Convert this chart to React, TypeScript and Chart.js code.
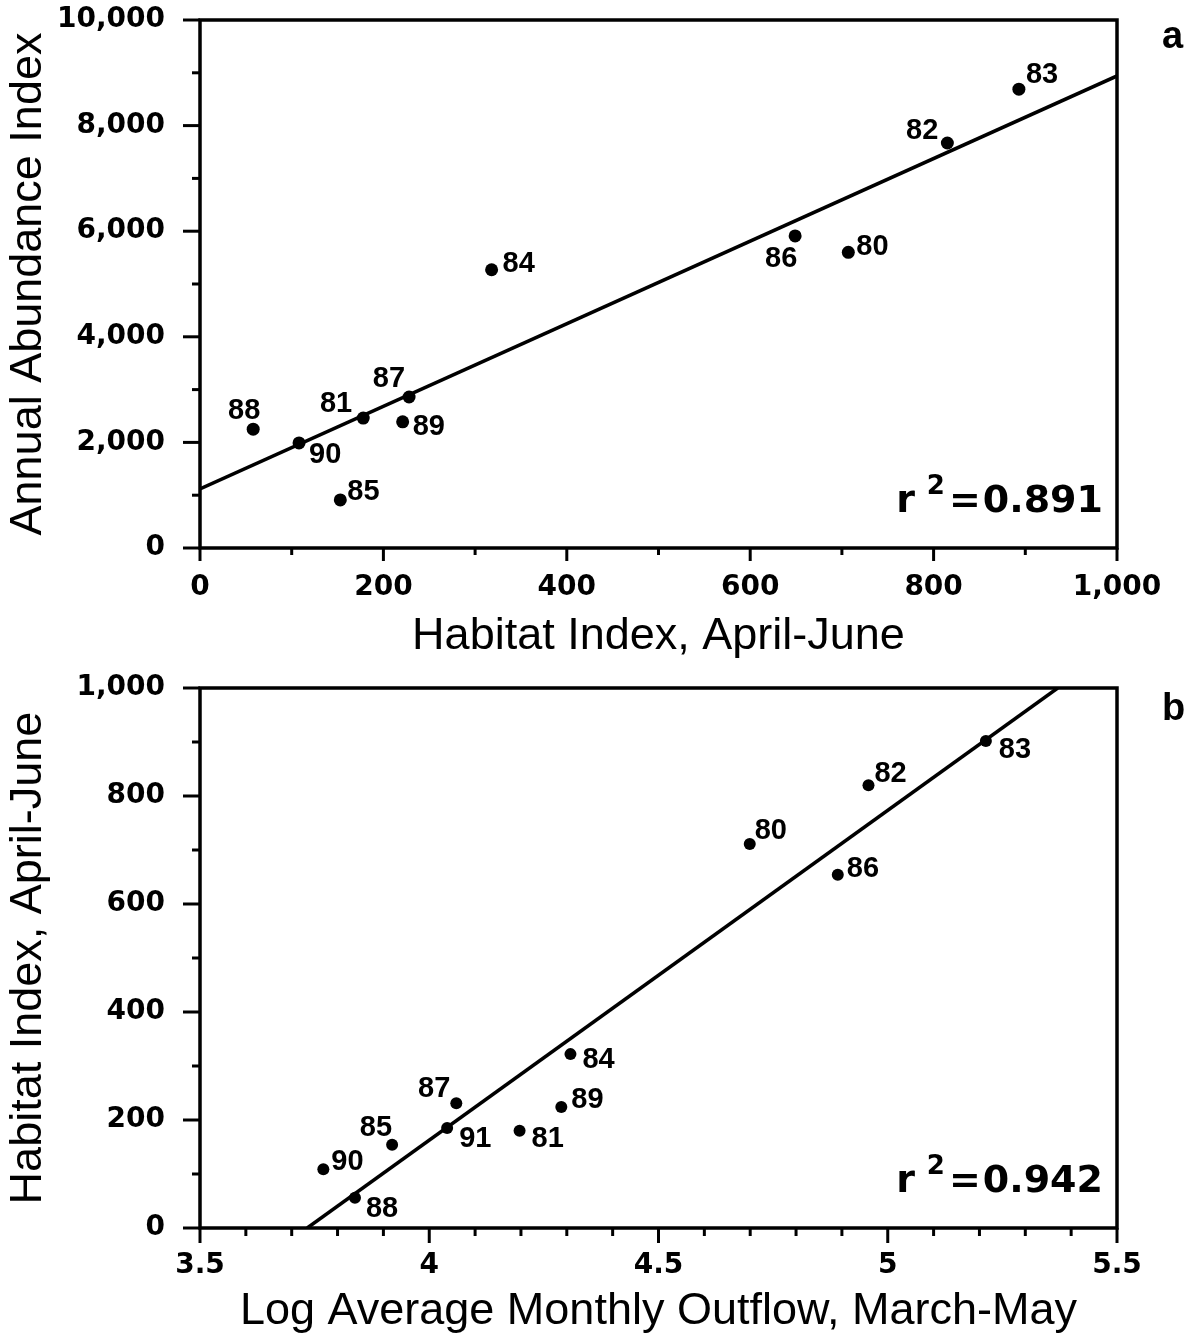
import React, { useEffect, useRef } from 'react';
import { Chart, registerables } from 'chart.js';

Chart.register(...registerables);

// ---------- Panel a data ----------
const YEARS_A = ['80', '81', '82', '83', '84', '85', '86', '87', '88', '89', '90'];
const HABITAT_A = [707, 178, 815, 893, 318, 153, 649, 228, 58, 221, 108];
const ABUNDANCE_A = [5600, 2460, 7670, 8690, 5270, 910, 5910, 2860, 2250, 2390, 1990];
const FIT_A = { intercept: 1120, slope: 7.82 };
const R2_A = '0.891';
const X_TICKS_A = { min: 0, max: 1000, step: 100, labelEvery: 200 };
const Y_TICKS_A = { min: 0, max: 10000, step: 1000, labelEvery: 2000 };
// label placement relative to each point: [dx, dy, align]
const LABEL_POS_A: [number, number, CanvasTextAlign][] = [
  [8, 3, 'left'], [-11, -6, 'right'], [-9, -4, 'right'], [7, -6, 'left'],
  [11, 2, 'left'], [7, 0, 'left'], [-14, 31, 'center'], [-4, -10, 'right'],
  [-9, -10, 'center'], [10, 13, 'left'], [10, 20, 'left'],
];

// ---------- Panel b data ----------
const YEARS_B = ['80', '81', '82', '83', '84', '85', '86', '87', '88', '89', '90', '91'];
const LOG_OUTFLOW_B = [4.699, 4.197, 4.958, 5.214, 4.308, 3.919, 4.891, 4.059, 3.838, 4.288, 3.769, 4.039];
const HABITAT_B = [711, 180, 820, 902, 322, 154, 654, 231, 56, 224, 109, 185];
const FIT_B = { intercept: -2281, slope: 610.9 };
const R2_B = '0.942';
const X_TICKS_B = { min: 3.5, max: 5.5, step: 0.1, labelEvery: 0.5 };
const Y_TICKS_B = { min: 0, max: 1000, step: 100, labelEvery: 200 };
const LABEL_POS_B: [number, number, CanvasTextAlign][] = [
  [5, -5, 'left'], [12, 16, 'left'], [6, -3, 'left'], [13, 17, 'left'],
  [12, 14, 'left'], [0, -9, 'right'], [9, 2, 'left'], [-6, -6, 'right'],
  [11, 19, 'left'], [10, 1, 'left'], [8, 1, 'left'], [12, 19, 'left'],
];

const TICK_FONT = { family: '"DejaVu Sans", sans-serif', size: 28, weight: 'bold' as const };
const TITLE_FONT = { family: '"Liberation Sans", Arial, sans-serif', size: 45, weight: 'normal' as const };
const POINT_LABEL_FONT = 'bold 29px "Liberation Sans", Arial, sans-serif';

function isMultiple(v: number, m: number) {
  const r = v / m;
  return Math.abs(r - Math.round(r)) < 1e-6;
}

function fmtNum(v: number) {
  const r = Math.round(v * 10) / 10;
  return Number.isInteger(r) ? r.toLocaleString('en-US') : String(r);
}

interface PanelSpec {
  letter: string;
  xs: number[];
  ys: number[];
  years: string[];
  labelPos: [number, number, CanvasTextAlign][];
  fit: { intercept: number; slope: number };
  fitX: [number, number];
  r2: string;
  xTicks: { min: number; max: number; step: number; labelEvery: number };
  yTicks: { min: number; max: number; step: number; labelEvery: number };
  xTitle: string;
  yTitle: string;
  padTop: number;
  xAxisHeight: number;
  pointRadius: number;
  xTickPad: number;
  xMajor: number;
  xMinor: number;
  letterDy: number;
}

function buildConfig(p: PanelSpec): any {
  const pts = p.xs.map((x, i) => ({ x, y: p.ys[i] }));
  const line = p.fitX.map((x) => ({ x, y: p.fit.intercept + p.fit.slope * x }));

  const decorPlugin = {
    id: 'decor' + p.letter,
    afterDatasetsDraw(chart: any) {
      const { ctx } = chart;
      const meta = chart.getDatasetMeta(0);
      ctx.save();
      ctx.fillStyle = '#000';
      ctx.font = POINT_LABEL_FONT;
      ctx.textBaseline = 'alphabetic';
      meta.data.forEach((el: any, i: number) => {
        const [dx, dy, align] = p.labelPos[i];
        ctx.textAlign = align;
        ctx.fillText(p.years[i], el.x + dx, el.y + dy);
      });
      ctx.restore();
    },
    afterDraw(chart: any) {
      const { ctx, chartArea: a } = chart;
      ctx.save();
      ctx.strokeStyle = '#000';
      ctx.lineWidth = 3.5;
      ctx.strokeRect(a.left, a.top, a.right - a.left, a.bottom - a.top);
      ctx.lineWidth = 3;
      const xs = chart.scales.x;
      xs.ticks.forEach((t: any) => {
        const px = xs.getPixelForValue(t.value);
        const len = isMultiple(t.value, p.xTicks.labelEvery) ? p.xMajor : p.xMinor;
        ctx.beginPath();
        ctx.moveTo(px, a.bottom);
        ctx.lineTo(px, a.bottom + len);
        ctx.stroke();
      });
      const ys = chart.scales.y;
      ys.ticks.forEach((t: any) => {
        const py = ys.getPixelForValue(t.value);
        const len = isMultiple(t.value, p.yTicks.labelEvery) ? 17 : 8;
        ctx.beginPath();
        ctx.moveTo(a.left, py);
        ctx.lineTo(a.left - len, py);
        ctx.stroke();
      });

      // r^2 annotation
      ctx.fillStyle = '#000';
      ctx.textBaseline = 'alphabetic';
      ctx.textAlign = 'right';
      const base = a.bottom - 36;
      let right = a.right - 14;
      ctx.font = 'bold 38px "DejaVu Sans", sans-serif';
      ctx.fillText(p.r2, right, base);
      right -= ctx.measureText(p.r2).width + 2;
      ctx.fillText('=', right, base);
      right -= ctx.measureText('=').width + 4;
      ctx.font = 'bold 26px "DejaVu Sans", sans-serif';
      ctx.fillText('2', right, base - 18);
      right -= ctx.measureText('2').width + 12;
      ctx.font = 'bold 38px "DejaVu Sans", sans-serif';
      ctx.fillText('r', right, base);

      // panel letter
      ctx.textAlign = 'left';
      ctx.font = 'bold 38px "Liberation Sans", Arial, sans-serif';
      ctx.fillText(p.letter, a.right + 45, a.top + p.letterDy);
      ctx.restore();
    },
  };

  return {
    type: 'scatter',
    data: {
      datasets: [
        {
          data: pts,
          backgroundColor: '#000',
          borderWidth: 0,
          pointRadius: p.pointRadius,
        },
        {
          data: line,
          showLine: true,
          borderColor: '#000',
          borderWidth: 3.5,
          pointRadius: 0,
          fill: false,
        },
      ],
    },
    options: {
      animation: false,
      responsive: false,
      devicePixelRatio: 1,
      events: [],
      layout: { padding: { top: p.padTop, right: 72, left: 0, bottom: 0 } },
      plugins: { legend: { display: false }, tooltip: { enabled: false }, title: { display: false } },
      scales: {
        x: {
          type: 'linear',
          min: p.xTicks.min,
          max: p.xTicks.max,
          border: { display: false },
          grid: { display: false, drawTicks: false },
          ticks: {
            stepSize: p.xTicks.step,
            autoSkip: false,
            maxRotation: 0,
            padding: p.xTickPad,
            color: '#000',
            font: TICK_FONT,
            callback: (v: number) => (isMultiple(v, p.xTicks.labelEvery) ? fmtNum(v) : ''),
          },
          title: {
            display: true,
            text: p.xTitle,
            color: '#000',
            font: TITLE_FONT,
            padding: { top: 0, bottom: p.letter === 'a' ? 6 : 0 },
          },
          afterFit: (s: any) => {
            s.height = p.xAxisHeight;
            s.paddingLeft = 0;
            s.paddingRight = 0;
          },
        },
        y: {
          type: 'linear',
          min: p.yTicks.min,
          max: p.yTicks.max,
          border: { display: false },
          grid: { display: false, drawTicks: true, tickLength: 35 },
          ticks: {
            stepSize: p.yTicks.step,
            autoSkip: false,
            padding: 0,
            color: '#000',
            font: TICK_FONT,
            callback: (v: number) => (isMultiple(v, p.yTicks.labelEvery) ? fmtNum(v) : ''),
          },
          title: {
            display: true,
            text: p.yTitle,
            color: '#000',
            font: TITLE_FONT,
            padding: { top: 2, bottom: 0 },
          },
          afterFit: (s: any) => {
            s.width = 200;
            s.paddingTop = 0;
            s.paddingBottom = 0;
          },
        },
      },
    },
    plugins: [decorPlugin],
  };
}

const PANEL_A: PanelSpec = {
  letter: 'a',
  xs: HABITAT_A,
  ys: ABUNDANCE_A,
  years: YEARS_A,
  labelPos: LABEL_POS_A,
  fit: FIT_A,
  fitX: [0, 1000],
  r2: R2_A,
  xTicks: X_TICKS_A,
  yTicks: Y_TICKS_A,
  xTitle: 'Habitat Index, April-June',
  yTitle: 'Annual Abundance Index',
  padTop: 20,
  xAxisHeight: 122,
  pointRadius: 6.5,
  xTickPad: 23,
  xMajor: 13,
  xMinor: 7,
  letterDy: 28,
};

const PANEL_B: PanelSpec = {
  letter: 'b',
  xs: LOG_OUTFLOW_B,
  ys: HABITAT_B,
  years: YEARS_B,
  labelPos: LABEL_POS_B,
  fit: FIT_B,
  fitX: [-FIT_B.intercept / FIT_B.slope, (1000 - FIT_B.intercept) / FIT_B.slope],
  r2: R2_B,
  xTicks: X_TICKS_B,
  yTicks: Y_TICKS_B,
  xTitle: 'Log Average Monthly Outflow, March-May',
  yTitle: 'Habitat Index, April-June',
  padTop: 18,
  xAxisHeight: 111,
  pointRadius: 6,
  xTickPad: 21,
  xMajor: 15,
  xMinor: 8,
  letterDy: 32,
};

function Panel({ spec, top, height }: { spec: PanelSpec; top: number; height: number }) {
  const ref = useRef<HTMLCanvasElement | null>(null);
  useEffect(() => {
    if (!ref.current) return;
    const chart = new Chart(ref.current, buildConfig(spec));
    return () => chart.destroy();
  }, [spec]);
  return (
    <canvas
      ref={ref}
      width={1189}
      height={height}
      style={{ position: 'absolute', left: 0, top, width: 1189, height, display: 'block' }}
    />
  );
}

export default function App() {
  useEffect(() => {
    document.body.style.margin = '0';
    document.body.style.background = '#fff';
  }, []);
  return (
    <div style={{ position: 'relative', width: 1189, height: 1339, background: '#fff', overflow: 'hidden' }}>
      <Panel spec={PANEL_A} top={0} height={670} />
      <Panel spec={PANEL_B} top={670} height={669} />
    </div>
  );
}
